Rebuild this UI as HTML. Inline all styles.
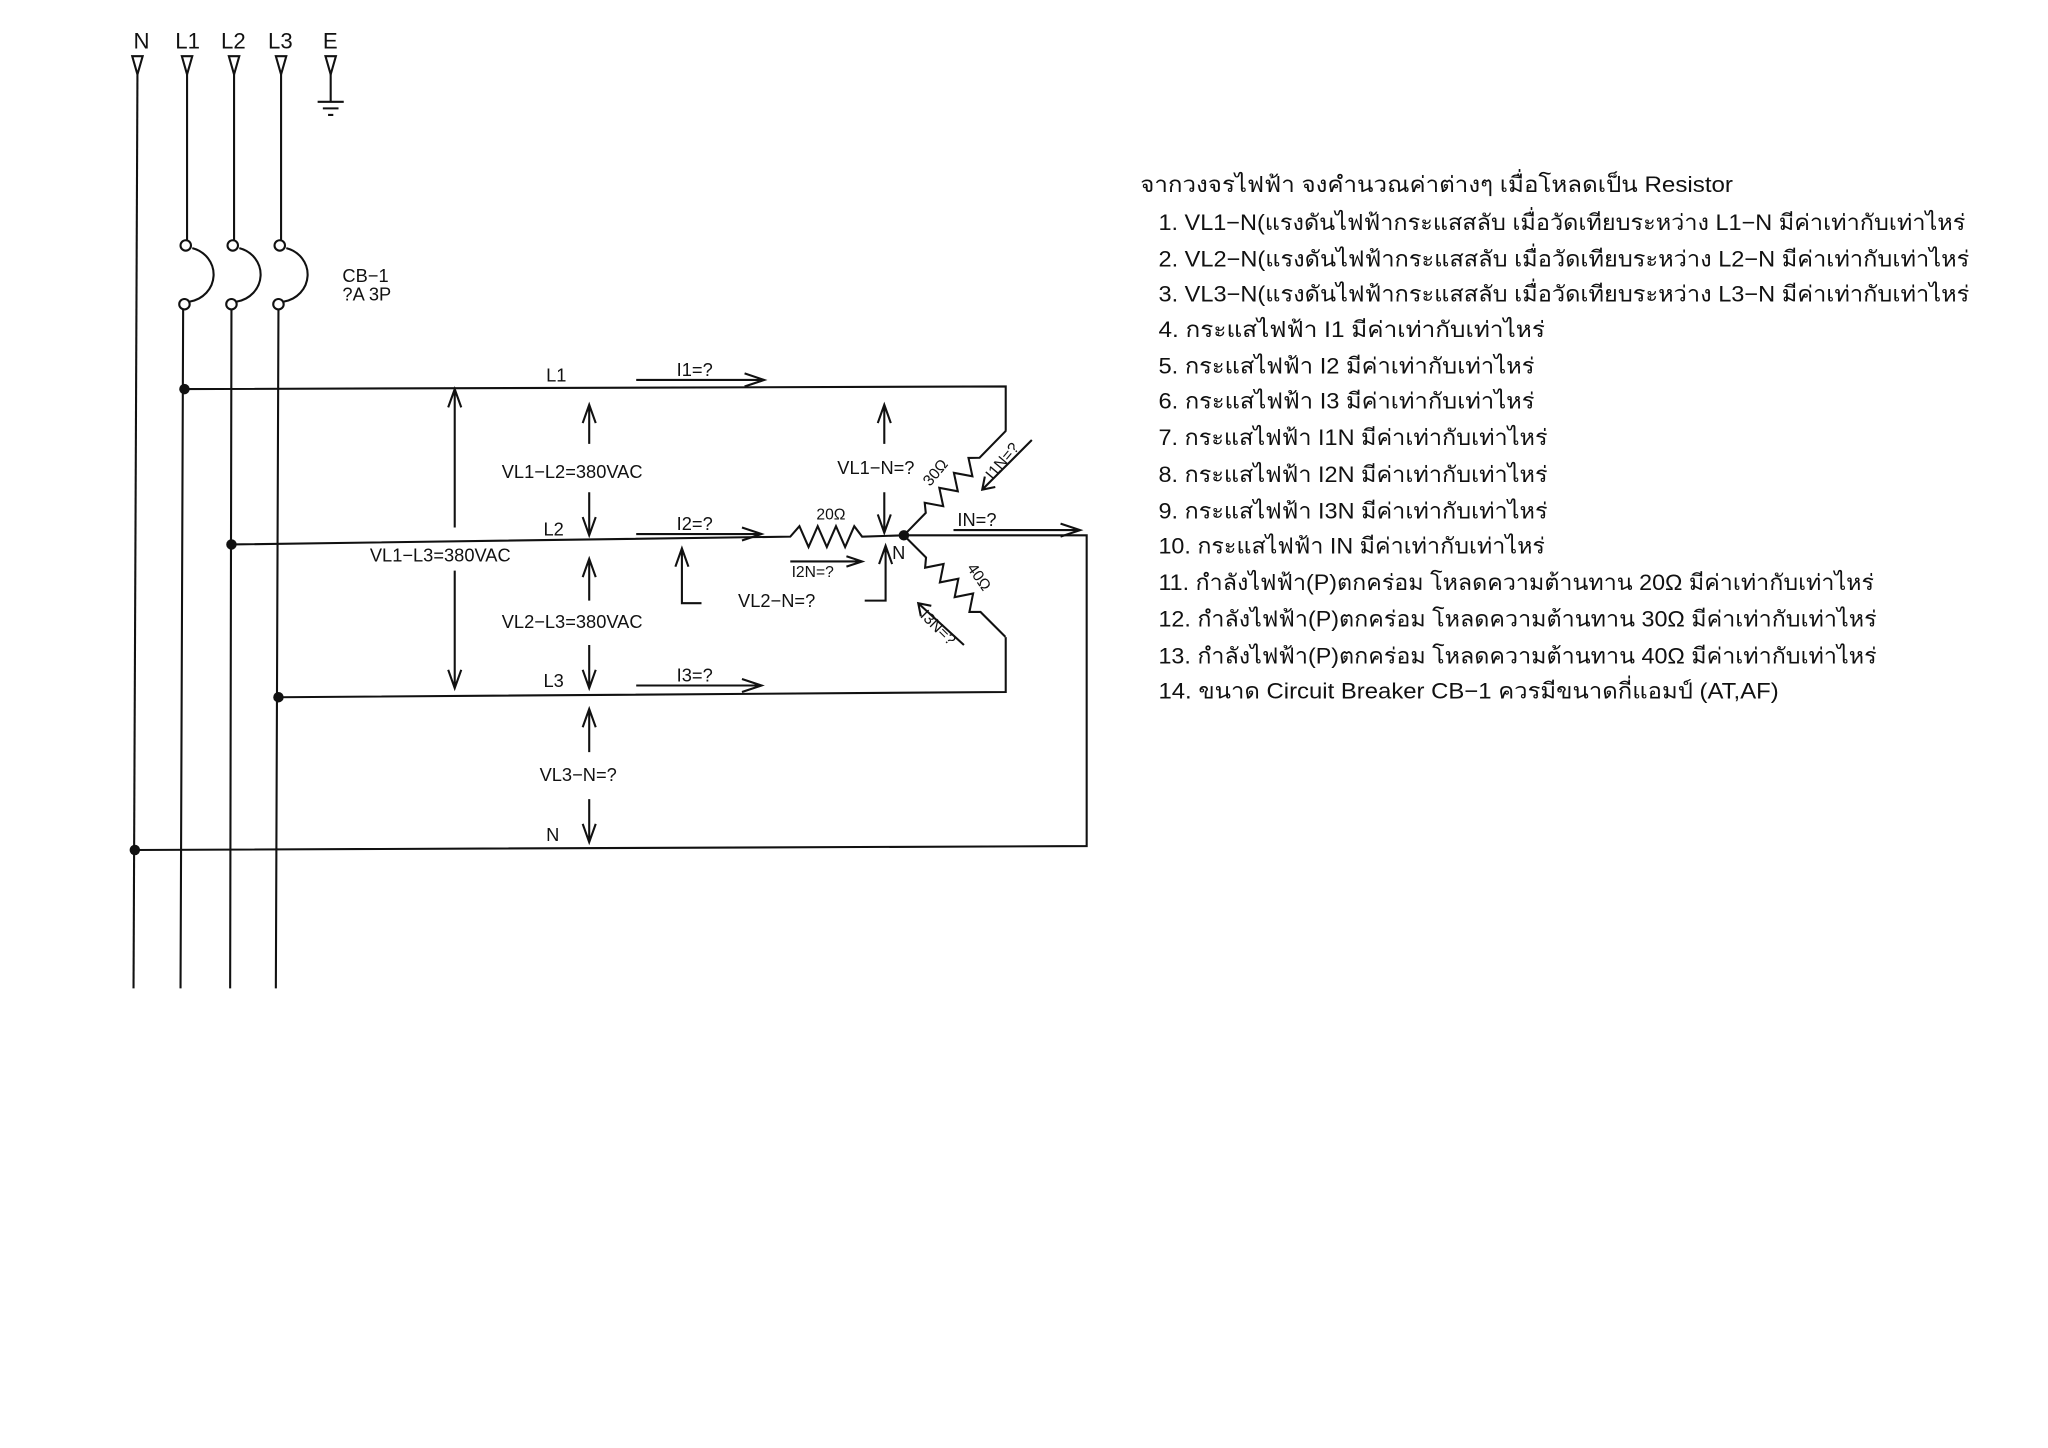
<!DOCTYPE html>
<html><head><meta charset="utf-8"><style>
html,body{margin:0;padding:0;background:#fff;}
svg{display:block;}
text{font-family:"Liberation Sans","DejaVu Sans",sans-serif;fill:#111;}
.th{font-family:"Liberation Sans","Noto Sans Thai","Loma","Garuda","Norasi",sans-serif;font-size:17px;}
</style></head><body>
<svg width="2048" height="1448" viewBox="0 0 1568 1109" xmlns="http://www.w3.org/2000/svg">
<rect width="1568" height="1109" fill="#fff"/>
<g stroke="#111" stroke-width="1.6" fill="none">
<path d="M101,43 L109,43 L105,57 Z M139,43 L147,43 L143,57 Z M175,43 L183,43 L179,57 Z M211,43 L219,43 L215,57 Z M249,43 L257,43 L253,57 Z"/>
<path d="M105,57 L102,757"/>
<path d="M143,57 L143,184 M140,237 L138,757"/>
<path d="M179,57 L179,184 M177,237 L176,757"/>
<path d="M215,57 L215,184 M213,237 L211,757"/>
<circle cx="142" cy="188" r="4"/><circle cx="141" cy="233" r="4"/>
<circle cx="178" cy="188" r="4"/><circle cx="177" cy="233" r="4"/>
<circle cx="214" cy="188" r="4"/><circle cx="213" cy="233" r="4"/>
<path d="M147,190 A22,21 0 0 1 145,231 M183,190 A22,21 0 0 1 181,231 M219,190 A22,21 0 0 1 217,231"/>
<path d="M253,57 L253,78 M243,78 L263,78 M247,83 L259,83 M251,88 L255,88"/>
<!-- buses -->
<path d="M140,298 L770,296 L770,330"/>
<path transform="translate(692,410) rotate(-45.7)" d="M0,0 L24,0 L29,-6 L37,6 L45,-6 L53,6 L61,-6 L69,6 L77,-6 L83,0 L112,0"/>
<path d="M177,417 L605,411 L612,403 L619,419 L626,403 L633,419 L640,403 L647,419 L654,403 L660,411 L692,410"/>
<path transform="translate(692,410) rotate(45)" d="M0,0 L24,0 L29,6 L37,-6 L45,6 L53,-6 L61,6 L69,-6 L77,6 L83,0 L110,0"/>
<path d="M770,488 L770,530 L213,534"/>
<path d="M692,410 L832,410 L832,648 L103,651"/>
<!-- current arrows -->
<path d="M487,291 L585,291 M570,286 L585,291 L570,296"/>
<path d="M487,409 L583,409 M568,404 L583,409 L568,414"/>
<path d="M487,525 L583,525 M568,520 L583,525 L568,530"/>
<path d="M730,406 L827,406 M812,401 L827,406 L812,411"/>
<path d="M605,430 L660,430 M648,426 L660,430 L648,434"/>
<path d="M790,337 L752,375 M754,365 L752,375 L762,373"/>
<path d="M738,494 L703,462 M705,472 L703,462 L713,464"/>
<!-- voltage arrows -->
<path d="M348,298 L348,404 M343,312 L348,298 L353,312 M348,437 L348,527 M343,513 L348,527 L353,513"/>
<path d="M451,340 L451,310 M446,324 L451,310 L456,324 M451,377 L451,410 M446,396 L451,410 L456,396"/>
<path d="M451,460 L451,428 M446,442 L451,428 L456,442 M451,494 L451,527 M446,513 L451,527 L456,513"/>
<path d="M451,576 L451,543 M446,557 L451,543 L456,557 M451,612 L451,645 M446,631 L451,645 L456,631"/>
<path d="M677,340 L677,310 M672,324 L677,310 L682,324 M677,377 L677,408 M672,394 L677,408 L682,394"/>
<path d="M537,462 L522,462 L522,420 M517,434 L522,420 L527,434"/>
<path d="M662,460 L678,460 L678,418 M673,432 L678,418 L683,432"/>
</g>
<g fill="#111">
<circle cx="141" cy="298" r="4"/><circle cx="177" cy="417" r="4"/><circle cx="213" cy="534" r="4"/><circle cx="103" cy="651" r="4"/><circle cx="692" cy="410" r="4"/>
</g>
<g font-size="17">
<text x="102" y="37">N</text><text x="134" y="37">L1</text><text x="169" y="37">L2</text><text x="205" y="37">L3</text><text x="247" y="37">E</text>
</g>
<g font-size="14">
<text x="262" y="216">CB−1</text><text x="262" y="230">?A 3P</text>
<text x="418" y="292">L1</text><text x="518" y="288">I1=?</text>
<text x="384" y="366">VL1−L2=380VAC</text>
<text x="416" y="410">L2</text><text x="518" y="406">I2=?</text>
<text x="283" y="430" fill="#555">VL1−L3=380VAC</text>
<text x="384" y="481">VL2−L3=380VAC</text>
<text x="416" y="526">L3</text><text x="518" y="522">I3=?</text>
<text x="413" y="598">VL3−N=?</text>
<text x="418" y="644">N</text>
<text x="641" y="363">VL1−N=?</text>
<text x="565" y="465">VL2−N=?</text>
<text x="733" y="403">IN=?</text>
<text x="683" y="428">N</text>
<text x="625" y="398" font-size="12">20Ω</text>
<text x="606" y="442" font-size="12">I2N=?</text>
<text x="0" y="0" font-size="12" transform="translate(712,373) rotate(-50)">30Ω</text>
<text x="0" y="0" font-size="12" transform="translate(740,435) rotate(55)">40Ω</text>
<text x="0" y="0" font-size="12" transform="translate(760,368) rotate(-50)">I1N=?</text>
<text x="0" y="0" font-size="12" transform="translate(704,472) rotate(45)">I3N=?</text>
</g>
<g class="th">
<text x="873" y="147" textLength="454" lengthAdjust="spacingAndGlyphs">จากวงจรไฟฟ้า จงคำนวณค่าต่างๆ เมื่อโหลดเป็น Resistor</text>
<text x="887" y="176" textLength="618" lengthAdjust="spacingAndGlyphs">1.  VL1−N(แรงดันไฟฟ้ากระแสสลับ เมื่อวัดเทียบระหว่าง L1−N  มีค่าเท่ากับเท่าไหร่</text>
<text x="887" y="204" textLength="621" lengthAdjust="spacingAndGlyphs">2.  VL2−N(แรงดันไฟฟ้ากระแสสลับ เมื่อวัดเทียบระหว่าง L2−N  มีค่าเท่ากับเท่าไหร่</text>
<text x="887" y="231" textLength="621" lengthAdjust="spacingAndGlyphs">3.  VL3−N(แรงดันไฟฟ้ากระแสสลับ เมื่อวัดเทียบระหว่าง L3−N  มีค่าเท่ากับเท่าไหร่</text>
<text x="887" y="258" textLength="296" lengthAdjust="spacingAndGlyphs">4.  กระแสไฟฟ้า I1  มีค่าเท่ากับเท่าไหร่</text>
<text x="887" y="286" textLength="288" lengthAdjust="spacingAndGlyphs">5.  กระแสไฟฟ้า I2  มีค่าเท่ากับเท่าไหร่</text>
<text x="887" y="313" textLength="288" lengthAdjust="spacingAndGlyphs">6.  กระแสไฟฟ้า I3  มีค่าเท่ากับเท่าไหร่</text>
<text x="887" y="341" textLength="298" lengthAdjust="spacingAndGlyphs">7.  กระแสไฟฟ้า I1N  มีค่าเท่ากับเท่าไหร่</text>
<text x="887" y="369" textLength="298" lengthAdjust="spacingAndGlyphs">8.  กระแสไฟฟ้า I2N  มีค่าเท่ากับเท่าไหร่</text>
<text x="887" y="397" textLength="298" lengthAdjust="spacingAndGlyphs">9.  กระแสไฟฟ้า I3N  มีค่าเท่ากับเท่าไหร่</text>
<text x="887" y="424" textLength="296" lengthAdjust="spacingAndGlyphs">10.  กระแสไฟฟ้า IN  มีค่าเท่ากับเท่าไหร่</text>
<text x="887" y="452" textLength="548" lengthAdjust="spacingAndGlyphs">11.  กำลังไฟฟ้า(P)ตกคร่อม  โหลดความต้านทาน 20Ω  มีค่าเท่ากับเท่าไหร่</text>
<text x="887" y="480" textLength="550" lengthAdjust="spacingAndGlyphs">12.  กำลังไฟฟ้า(P)ตกคร่อม  โหลดความต้านทาน 30Ω  มีค่าเท่ากับเท่าไหร่</text>
<text x="887" y="508" textLength="550" lengthAdjust="spacingAndGlyphs">13.  กำลังไฟฟ้า(P)ตกคร่อม  โหลดความต้านทาน 40Ω  มีค่าเท่ากับเท่าไหร่</text>
<text x="887" y="535" textLength="475" lengthAdjust="spacingAndGlyphs">14.  ขนาด Circuit Breaker CB−1  ควรมีขนาดกี่แอมป์ (AT,AF)</text>
</g>
</svg>
</body></html>
